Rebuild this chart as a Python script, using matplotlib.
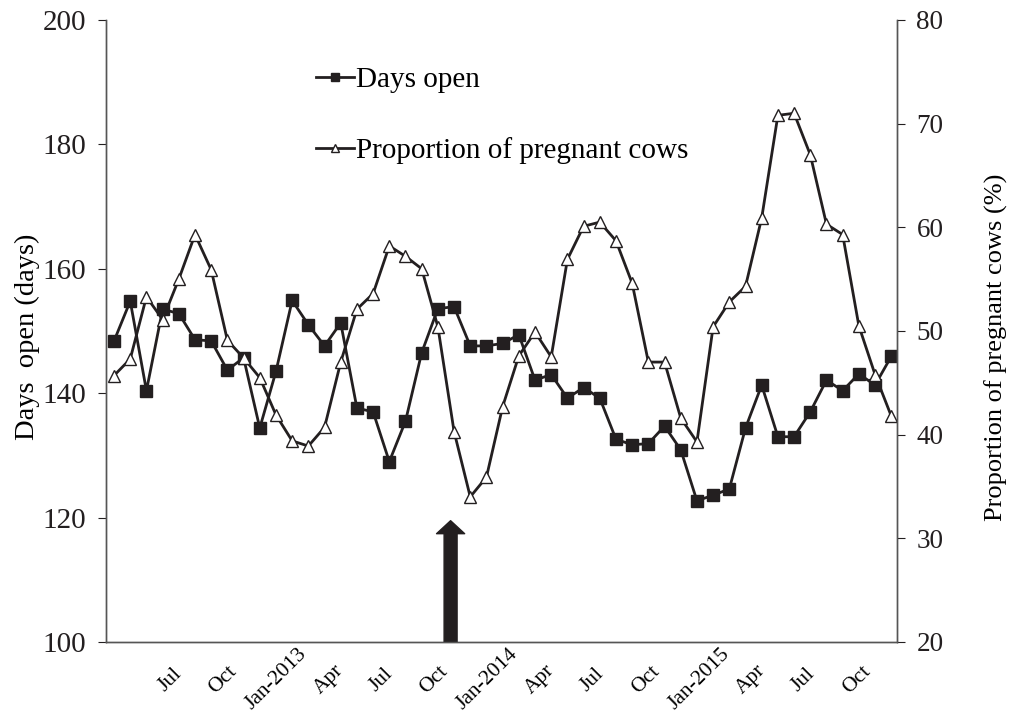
import matplotlib
matplotlib.use("Agg")
import matplotlib.pyplot as plt
import pandas as pd

plt.rcParams['font.family'] = ['Liberation Serif', 'DejaVu Serif']

# 4-weekly records, starting late March 2012
dates = pd.date_range("2012-03-26", periods=49, freq="28D")

days_open = [148.4, 154.8, 140.4, 153.5, 152.8, 148.6, 148.4, 143.7, 145.7, 134.4,
             143.5, 154.9, 151.0, 147.6, 151.3, 137.6, 137.0, 129.0, 135.5, 146.5,
             153.6, 153.9, 147.6, 147.6, 148.0, 149.4, 142.1, 143.0, 139.2, 140.9,
             139.2, 132.6, 131.7, 131.9, 134.7, 130.9, 122.7, 123.6, 124.6, 134.4,
             141.3, 133.0, 133.0, 137.0, 142.1, 140.4, 143.1, 141.3, 145.9]

pregnant = [45.7, 47.3, 53.3, 51.1, 55.0, 59.3, 55.9, 49.1, 47.4, 45.5,
            41.9, 39.4, 38.9, 40.7, 47.0, 52.1, 53.6, 58.2, 57.2, 56.0,
            50.4, 40.3, 34.0, 35.9, 42.7, 47.6, 49.9, 47.5, 56.9, 60.1,
            60.5, 58.7, 54.6, 47.0, 47.0, 41.6, 39.3, 50.4, 52.8, 54.3,
            60.9, 70.8, 71.0, 67.0, 60.3, 59.3, 50.5, 45.8, 41.8]

tick_dates = pd.date_range("2012-07-01", "2015-10-01", freq="3MS")
tick_labels = ["Jul", "Oct", "Jan-2013", "Apr", "Jul", "Oct", "Jan-2014",
               "Apr", "Jul", "Oct", "Jan-2015", "Apr", "Jul", "Oct"]

arrow_date = pd.Timestamp("2013-10-29")

ink = '#231f20'

fig = plt.figure(figsize=(10.13, 7.13), dpi=100)
ax = fig.add_axes([0.1046, 0.0996, 0.7809, 0.8724])
ax2 = ax.twinx()

ax.plot(dates, days_open, color=ink, lw=2.0, marker='s', ms=8,
        mfc=ink, mec=ink, label='Days open')
ax2.plot(dates, pregnant, color=ink, lw=2.0, marker='^', ms=9,
         mfc='white', mec=ink, mew=1.0, label='Proportion of pregnant cows')

ax.set_ylim(100, 200)
ax.set_yticks([100, 120, 140, 160, 180, 200])
ax2.set_ylim(20, 80)
ax2.set_yticks([20, 30, 40, 50, 60, 70, 80])
ax.set_xlim(dates[0] - pd.Timedelta(days=14), dates[0] + pd.Timedelta(days=1354))

ax.set_xticks(tick_dates)
ax.set_xticklabels(tick_labels, rotation=45, ha='center', va='center')
ax.tick_params(axis='x', length=0, pad=27, labelsize=15.5)
ax.tick_params(axis='y', direction='out', length=6, pad=8, labelsize=21, colors=ink)
ax2.tick_params(axis='y', direction='out', length=6, pad=8, labelsize=19.5, colors=ink)

for a in (ax, ax2):
    a.spines['top'].set_visible(False)
    for s in a.spines.values():
        s.set_color('#555555')
        s.set_linewidth(1.0)

ax.set_ylabel("Days  open (days)", fontsize=20.5)
ax.yaxis.set_label_coords(-0.084, 0.49)
ax2.set_ylabel("Proportion of pregnant cows (%)", fontsize=19)
ax2.yaxis.set_label_coords(1.111, 0.473)

ax.annotate('', xy=(arrow_date, 119.5), xytext=(arrow_date, 100),
            arrowprops=dict(arrowstyle='simple,head_width=1.19,head_length=0.55,tail_width=0.55',
                            color=ink, shrinkA=0, shrinkB=0, mutation_scale=17))

h1, l1 = ax.get_legend_handles_labels()
h2, l2 = ax2.get_legend_handles_labels()
ax2.legend(h1 + h2, l1 + l2, loc='upper left', bbox_to_anchor=(0.265, 0.925),
           frameon=False, fontsize=21, handlelength=1.3, handletextpad=0.1,
           labelspacing=1.5, markerscale=0.7, borderpad=0, borderaxespad=0)

fig.savefig("out.png", dpi=100)
